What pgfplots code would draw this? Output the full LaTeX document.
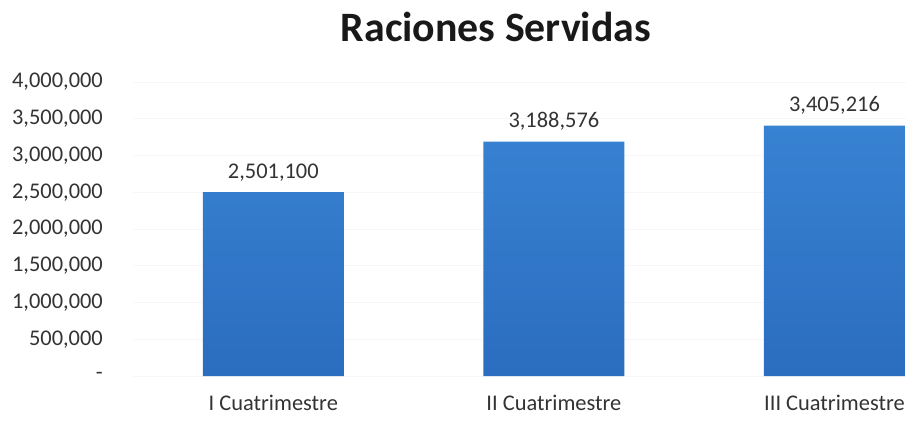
\documentclass[border=0pt]{standalone}
\usepackage{pgfplots}
\pgfplotsset{compat=1.18}
\usepackage{fontspec}
\setmainfont{Carlito}
\definecolor{txt}{HTML}{333333}
\definecolor{barA}{HTML}{3882D2}
\definecolor{barB}{HTML}{2B6DBF}
\begin{document}
\begin{tikzpicture}[x=1bp,y=1bp]
\path[use as bounding box] (0,0) rectangle (906,420);
\node[font=\fontsize{42}{46}\selectfont\bfseries, text=black!90, anchor=base] at (496,379) {Raciones Servidas};
\begin{axis}[
  at={(133bp,44bp)}, anchor=south west,
  scale only axis, width=773bp, height=294bp,
  xmin=-0.5, xmax=2.255, ymin=0, ymax=4000000,
  scaled y ticks=false,
  axis line style={draw=none},
  major tick length=0pt,
  xtick={0,1,2},
  xticklabels={I Cuatrimestre, II Cuatrimestre, III Cuatrimestre},
  ytick={0,500000,1000000,1500000,2000000,2500000,3000000,3500000,4000000},
  yticklabels={{-},{500,000},{1,000,000},{1,500,000},{2,000,000},{2,500,000},{3,000,000},{3,500,000},{4,000,000}},
  ymajorgrids, grid style={draw=gray!6, line width=0.6bp},
  tick label style={font=\fontsize{22.5}{24}\selectfont, text=txt},
  yticklabel style={anchor=east, inner sep=0pt, xshift=-30bp},
  xticklabel style={anchor=base, inner sep=0pt, yshift=-34bp},
  clip=false,
]
\addplot[ybar, bar width=141bp, draw=none, top color=barA, bottom color=barB,
  point meta=explicit symbolic,
  nodes near coords={\pgfplotspointmeta},
  every node near coord/.style={anchor=base, inner sep=0pt, yshift=14bp, font=\fontsize{22.5}{24}\selectfont, text=txt}]
coordinates {(0,2501100) [2,501,100] (1,3188576) [3,188,576] (2,3405216) [3,405,216]};
\end{axis}
\end{tikzpicture}
\end{document}
